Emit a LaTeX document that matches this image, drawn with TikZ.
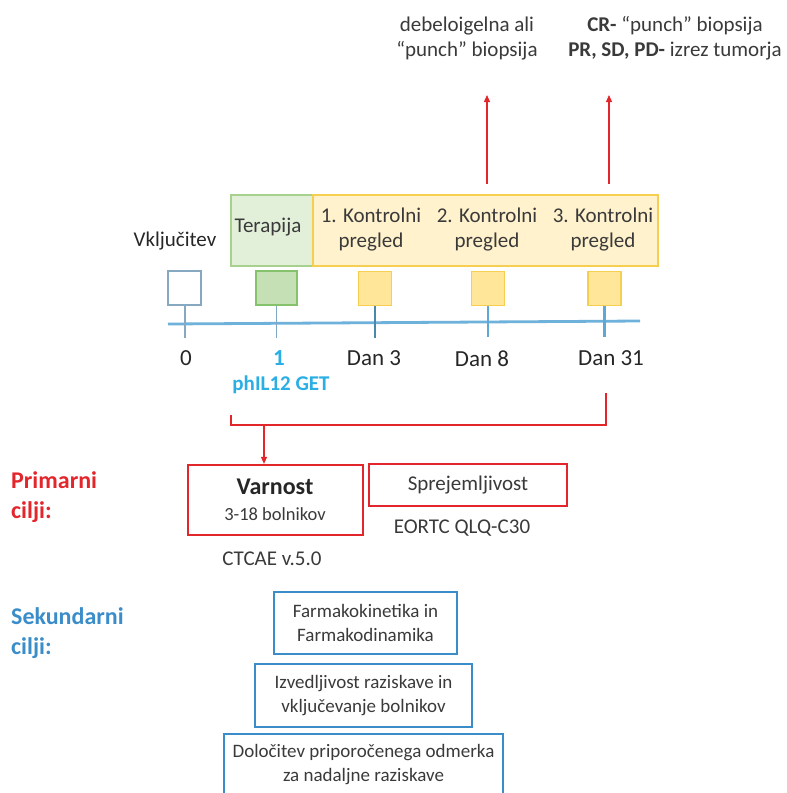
\documentclass[tikz,border=0pt]{standalone}
\usepackage{fontspec}
\setmainfont{Carlito}
\usepackage{tikz}
\usetikzlibrary{arrows.meta, calc, positioning}

\definecolor{txtgray}{HTML}{3A3A3A}
\definecolor{cred}{HTML}{E3262C}
\definecolor{cblue}{HTML}{3B8DC9}
\definecolor{ccyan}{HTML}{2AAEE4}
\definecolor{tlblue}{HTML}{5EA8D6}
\definecolor{greenfill}{HTML}{E2F0D9}
\definecolor{greendraw}{HTML}{A9D18E}
\definecolor{greensq}{HTML}{C5E0B4}
\definecolor{greensqdraw}{HTML}{86C26C}
\definecolor{yellowfill}{HTML}{FFF2CC}
\definecolor{yellowdraw}{HTML}{F7CF50}
\definecolor{yellowsq}{HTML}{FFE699}
\definecolor{graysq}{HTML}{86A8C0}

\begin{document}
\begin{tikzpicture}[x=1pt, y=-1pt,
	txt/.style={text=txtgray, font=\fontsize{21}{25}\selectfont, align=center, inner sep=0pt},
	small/.style={txt, font=\fontsize{19}{24}\selectfont},
	sqbox/.style={draw, line width=1.6pt, minimum width=33pt, minimum height=34pt, inner sep=0pt},
	tick/.style={line width=2.6pt, draw=tlblue},
	redline/.style={draw=cred, line width=1.2pt},
	redarrow/.style={redline, -{Triangle[length=7pt, width=6pt]}},
	redbox/.style={draw=cred, line width=2.2pt, inner sep=0pt},
	bluebox/.style={draw=cblue, line width=2.4pt, inner sep=0pt}]

	\useasboundingbox (0,0) rectangle (787,793);
	\clip (0,0) rectangle (787,793);

	% biopsies
	\node[txt] (bio8) at (467,38.5) {debeloigelna ali\\``punch'' biopsija};
	\node[txt] (bio31) at (675,38.5) {\textbf{CR-} ``punch'' biopsija\\\textbf{PR, SD, PD-} izrez tumorja};
	\coordinate (tip8) at (487,95);
	\coordinate (tip31) at (609,95);

	% phases
	\node[draw=greendraw, fill=greenfill, line width=2pt, minimum width=82pt, minimum height=71pt, inner sep=0pt] (ter) at (272,230.5) {};
	\node[draw=yellowdraw, fill=yellowfill, line width=2pt, minimum width=345pt, minimum height=71pt, inner sep=0pt] (preg) at (485.5,230.5) {};
	\node[txt] at (268,227) {Terapija};
	\node[txt] (k1) at (371,229.5) {1. Kontrolni\\pregled};
	\node[txt] (k2) at (487,229.5) {2. Kontrolni\\pregled};
	\node[txt] (k3) at (603,229.5) {3. Kontrolni\\pregled};
	\node[txt, text=black!85] (vkl) at (175,241) {Vklju\v{c}itev};

	\draw[redarrow] (tip8 |- preg.north) ++(0,-10) -- (tip8);
	\draw[redarrow] (tip31 |- preg.north) ++(0,-10) -- (tip31);

	% timeline
	\coordinate (tlA) at (168,324);
	\coordinate (tlB) at (640,321);
	\draw[line width=2.8pt, draw=tlblue!90] (tlA) -- (tlB);

	\node[sqbox, draw=graysq, fill=white] (sq0) at (184.5,288) {};
	\node[sqbox, draw=greensqdraw, fill=greensq, minimum width=41pt] (sq1) at (276.5,288) {};
	\node[sqbox, draw=yellowdraw, fill=yellowsq] (sq3) at (375,288.5) {};
	\node[sqbox, draw=yellowdraw, fill=yellowsq] (sq8) at (488,288.5) {};
	\node[sqbox, draw=yellowdraw, fill=yellowsq] (sq31) at (604.5,288.5) {};

	\draw[tick, draw=graysq, line width=2pt] (sq0.south) -- ++(0,32);
	\draw[tick, draw=graysq!80!tlblue, line width=1.6pt] (sq1.south) -- ++(0,32);
	\draw[tick, draw=tlblue!80!black] (sq3.south) -- ++(0,32);
	\draw[tick] (sq8.south) -- ++(0,31);
	\draw[tick] (sq31.south) -- ++(0,31);

	\node[txt, font=\fontsize{23}{25}\selectfont, text=black!85] (d0) at (186,358) {0};
	\node[txt, font=\fontsize{23}{25}\selectfont\bfseries, text=ccyan] (d1) at (279,358) {1};
	\node[txt, font=\fontsize{23}{25}\selectfont, text=black!85] (d3) at (374,358) {Dan 3};
	\node[txt, font=\fontsize{23}{25}\selectfont, text=black!85] (d8) at (482,359) {Dan 8};
	\node[txt, font=\fontsize{23}{25}\selectfont, text=black!85] (d31) at (611,358) {Dan 31};
	\node[txt, font=\fontsize{21}{25}\selectfont\bfseries, text=ccyan] (get) at (281,385) {phIL12 GET};

	% primary goals
	\node[redbox, minimum width=175pt, minimum height=70pt] (varn) at (275.5,500) {};
	\node[txt, font=\fontsize{24}{26}\selectfont\bfseries, text=black!85] (varnt) at (275,487) {Varnost};
	\node[txt, font=\fontsize{18.5}{22}\selectfont] (boln) at (275,514) {3-18 bolnikov};
	\node[redbox, minimum width=198pt, minimum height=42pt, txt] (sprej) at (468,485) {Sprejemljivost};
	\node[txt] (ctcae) at (272,559) {CTCAE v.5.0};
	\node[txt] (eortc) at (462,528) {EORTC QLQ-C30};

	\coordinate (split) at (264,425);
	\draw[redline] (d31.south) ++(-5,27) |- (231,425) -- ++(0,-10);
	\draw[redarrow] (split) -- (split |- varn.north);

	\node[txt, anchor=west, align=left, text=cred, font=\fontsize{24}{30}\selectfont\bfseries] (prim) at (11,497) {Primarni\\cilji:};
	\node[txt, anchor=west, align=left, text=cblue, font=\fontsize{24}{30}\selectfont\bfseries] (sek) at (11,633) {Sekundarni\\cilji:};

	% secondary goals
	\node[bluebox, small, minimum width=183pt, minimum height=62pt] (farm) at (365.5,623) {Farmakokinetika in\\Farmakodinamika};
	\node[bluebox, small, minimum width=217pt, minimum height=63pt] (izv) at (363.5,695.5) {Izvedljivost raziskave in\\vklju\v{c}evanje bolnikov};
	\node[bluebox, small, minimum width=279pt, inner ysep=10pt, anchor=north, text depth=30pt] (dol) at (363.5,733) {Dolo\v{c}itev priporo\v{c}enega odmerka\\za nadaljne raziskave};

\end{tikzpicture}
\end{document}
